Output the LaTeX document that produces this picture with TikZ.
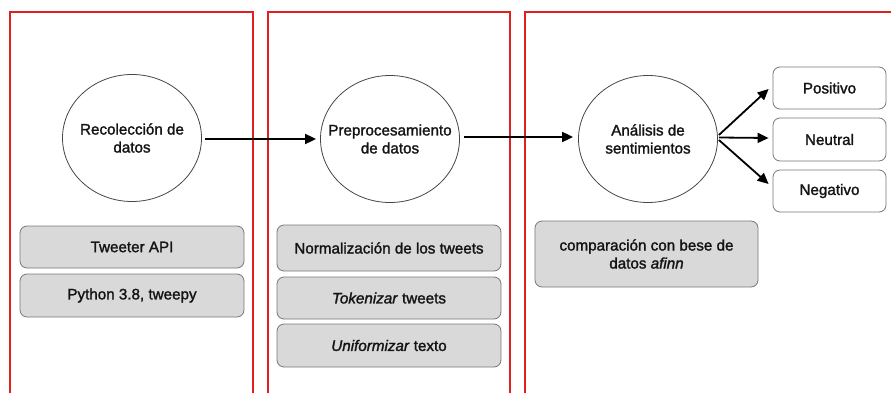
\documentclass[tikz,border=0pt]{standalone}
\usepackage{fontspec}
\setmainfont{Liberation Sans}[FakeBold=1.6]
\usetikzlibrary{arrows.meta,calc,shapes.geometric}
\definecolor{redline}{RGB}{222,32,32}
\definecolor{boxgray}{RGB}{217,217,217}
\definecolor{boxborder}{RGB}{120,120,120}
\definecolor{ellborder}{RGB}{70,70,70}
\definecolor{txt}{RGB}{20,20,20}
\begin{document}
\begin{tikzpicture}[x=1pt,y=-1pt,
  lbl/.style={font=\fontsize{15.2}{18}\selectfont, align=center, text=txt},
  frame/.style={draw=redline, line width=1.8pt},
  ell/.style={ellipse, draw=ellborder, line width=0.8pt, fill=white, minimum width=139pt, minimum height=127pt, inner sep=0pt},
  graybox/.style={rectangle, rounded corners=7pt, fill=boxgray, draw=boxborder, line width=0.8pt, minimum width=224pt, inner sep=0pt, lbl},
  outbox/.style={rectangle, rounded corners=7pt, fill=white, draw=boxborder, line width=0.8pt, minimum width=113pt, inner sep=0pt, lbl},
  arr/.style={line width=1.8pt, -{Triangle[length=11pt,width=10pt]}}
]
\useasboundingbox (0,0) rectangle (891,393);
\clip (0,0) rectangle (891,393);
\fill[white] (0,0) rectangle (891,393);
% red frames
\draw[frame] (10,12) rectangle (253,400);
\draw[frame] (268,12) rectangle (510,400);
\draw[frame] (525,12) rectangle (900,400);
% circles
\node[ell] (c1) at (132,138) {};
\node[ell] (c2) at (390,139) {};
\node[ell] (c3) at (648,139) {};
\node[lbl] (t1) at (c1.center) {Recolección de\\datos};
\node[lbl] (t2) at (c2.center) {Preprocesamiento\\de datos};
\node[lbl] (t3) at (c3.center) {Análisis de\\sentimientos};
% output boxes
\node[outbox, minimum height=42pt] (pos) at (829.5,88) {Positivo};
\node[outbox, minimum height=43pt] (neu) at (829.5,139.5) {Neutral};
\node[outbox, minimum height=42pt] (neg) at (829.5,191) {Negativo};
% gray boxes
\node[graybox, minimum height=42pt] (b1a) at (132,247) {Tweeter API};
\node[graybox, minimum height=43pt] (b1b) at (132,295.5) {Python 3.8, tweepy};
\node[graybox, minimum height=46pt] (b2a) at (389,248) {Normalización de los tweets};
\node[graybox, minimum height=42pt] (b2b) at (389,298) {\textit{Tokenizar} tweets};
\node[graybox, minimum height=43pt] (b2c) at (389,345.5) {\textit{Uniformizar} texto};
\node[graybox, minimum width=223pt, minimum height=66pt] (b3) at (646.5,254) {comparación con bese de\\datos \textit{afinn}};
% arrows
\draw[arr] ($(c1.east)+(3,1)$) -- ($(c2.west)+(-4,0)$);
\draw[arr] ($(c2.east)+(4,-2)$) -- ($(c3.west)+(-5,-2)$);
\draw[arr] ($(c3.east)+(1,-4)$) -- ($(pos.west)+(-4,1)$);
\draw[arr] ($(c3.east)+(1,-1.5)$) -- ($(neu.west)+(-4,-1.5)$);
\draw[arr] ($(c3.east)+(1,1)$) -- ($(neg.west)+(-4,-7)$);
\end{tikzpicture}
\end{document}
